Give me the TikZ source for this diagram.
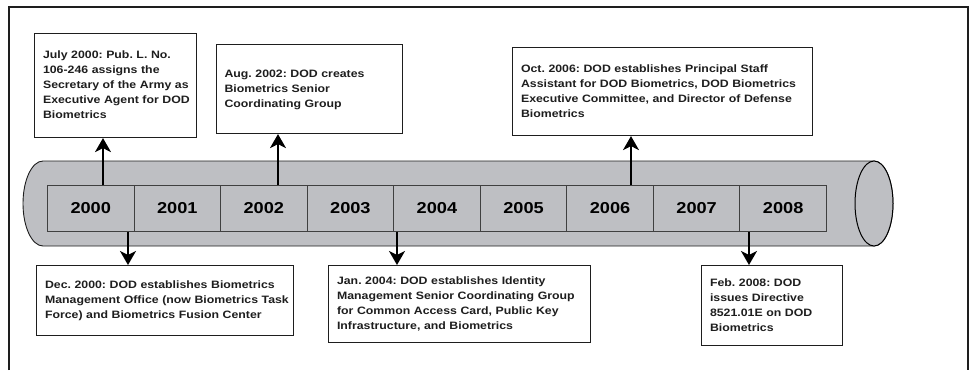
\documentclass[tikz,border=0pt]{standalone}
\usepackage{fontspec}
\setmainfont{Liberation Sans}
\newfontfamily\boxfont[FakeStretch=1.15]{Liberation Sans}
\usetikzlibrary{arrows.meta}
\definecolor{tube}{RGB}{190,191,195}
\definecolor{ink}{RGB}{30,30,30}
\frenchspacing
\newcommand\evtext[1]{\begin{tabular}{@{}l@{}}#1\end{tabular}}
\tikzset{
  evbox/.style={draw=ink, line width=1.1pt, fill=white, anchor=north west, align=left,
    inner xsep=8.5pt, inner ysep=0pt, text=ink,
    font=\boxfont\bfseries\fontsize{10.7}{15}\selectfont},
  yearcell/.style={draw=ink!85, line width=0.9pt, fill=tube, anchor=north west,
    minimum width=86.56pt, minimum height=46pt, inner sep=0pt,
    font=\boxfont\bfseries\fontsize{15.8}{18}\selectfont},
  arr/.style={line width=1.8pt, draw=black, -{Stealth[length=14pt,width=16pt,inset=4pt]}},
  frameline/.style={line width=1.4pt, draw=ink}
}
\begin{document}
\begin{tikzpicture}[x=1pt,y=-1pt]
\useasboundingbox (0,0) rectangle (970,370);
% frame
\draw[frameline] (9,370) -- (9,7) -- (968,7) -- (968,370);
% cylinder body
\draw[fill=tube, draw=ink, line width=0.9pt]
  (874,161) -- (43,161) arc[start angle=270, end angle=90, x radius=20, y radius=42.5]
  -- (874,246) arc[start angle=90, end angle=-90, x radius=19, y radius=42.5] -- cycle;
\draw[fill=tube, draw=black, line width=1pt] (874,203.5) ellipse[x radius=19, y radius=42.5];
% year cells
\foreach \yr [count=\i from 0] in {2000,2001,2002,2003,2004,2005,2006,2007,2008}
  \node[yearcell] (y\yr) at ({47+\i*86.555},185) {\yr};
% event boxes
\node[evbox, minimum width=162pt, minimum height=104pt, text width=145pt] (bA) at (34,33)
  {\evtext{July 2000: Pub. L. No.\\106-246 assigns the\\Secretary of the Army as\\Executive Agent for DOD\\Biometrics}};
\node[evbox, minimum width=186pt, minimum height=89pt, text width=170pt, inner xsep=8pt] (bB) at (216,44)
  {\evtext{Aug. 2002: DOD creates\\Biometrics Senior\\Coordinating Group}};
\node[evbox, minimum width=300pt, minimum height=88pt, text width=283pt] (bC) at (512,47)
  {\evtext{Oct. 2006: DOD establishes Principal Staff\\Assistant for DOD Biometrics, DOD Biometrics\\Executive Committee, and Director of Defense\\Biometrics}};
\node[evbox, minimum width=257pt, minimum height=70pt, text width=240pt] (bD) at (36,265)
  {\evtext{Dec. 2000: DOD establishes Biometrics\\Management Office (now Biometrics Task\\Force) and Biometrics Fusion Center}};
\node[evbox, minimum width=262pt, minimum height=77pt, text width=245pt] (bE) at (328,265)
  {\evtext{Jan. 2004: DOD establishes Identity\\Management Senior Coordinating Group\\for Common Access Card, Public Key\\Infrastructure, and Biometrics}};
\node[evbox, minimum width=141pt, minimum height=80pt, text width=124pt] (bF) at (701,265)
  {\evtext{Feb. 2008: DOD\\issues Directive\\8521.01E on DOD\\Biometrics}};
% arrow x positions
\coordinate (a1) at (103,0);
\coordinate (a2) at (278,0);
\coordinate (a3) at (631,0);
\coordinate (d1) at (128,0);
\coordinate (d2) at (397,0);
\coordinate (d3) at (749,0);
\draw[arr] (y2000.north -| a1) -- (bA.south -| a1);
\draw[arr] (y2002.north -| a2) -- (bB.south -| a2);
\draw[arr] (y2006.north -| a3) -- (bC.south -| a3);
\draw[arr] (y2000.south -| d1) -- (bD.north -| d1);
\draw[arr] (y2004.south -| d2) -- (bE.north -| d2);
\draw[arr] (y2008.south -| d3) -- (bF.north -| d3);
\end{tikzpicture}
\end{document}
